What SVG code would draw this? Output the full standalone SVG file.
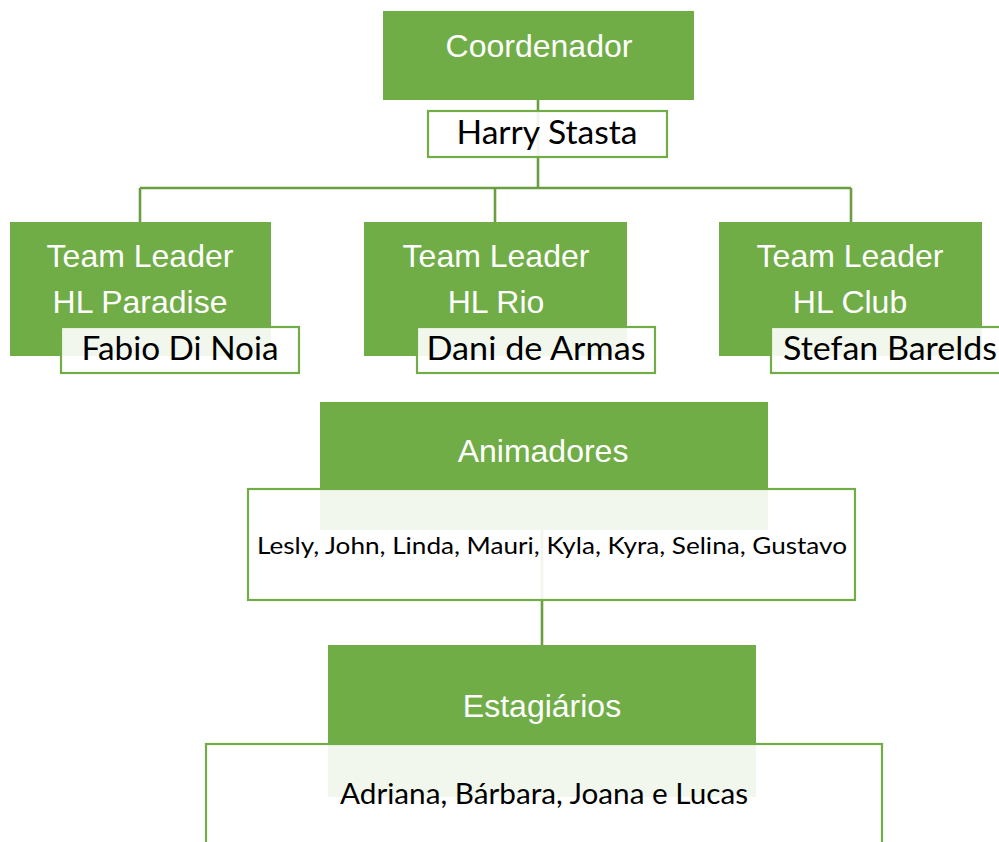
<svg xmlns="http://www.w3.org/2000/svg" width="999" height="842" viewBox="0 0 999 842">
<style>
.g{fill:#70AD47}
.w{fill:#ffffff;fill-opacity:0.9;stroke:#70AD47;stroke-width:2.2}
.t{font-family:"Liberation Sans",Arial,sans-serif;font-size:32px;fill:#ffffff;text-anchor:middle}
.n{font-family:Lato,"Open Sans",sans-serif;fill:#000000;text-anchor:middle}
.c{fill:none;stroke:#6A9E40;stroke-width:2.6}
</style>
<rect width="999" height="842" fill="#ffffff"/>
<g id="connectors">
<path class="c" d="M538,100V188M140,188H851M140,188V222M495,188V222M851,188V222"/>
<path class="c" d="M542,530V645"/>
</g>
<g id="coordenador">
<rect class="g" x="383" y="11" width="311" height="89"/>
<text class="t" x="539" y="57">Coordenador</text>
</g>
<g id="harry">
<rect class="w" x="428" y="111" width="239" height="46"/>
<text class="n" x="547" y="144" font-size="33" textLength="181" lengthAdjust="spacingAndGlyphs">Harry Stasta</text>
</g>
<g id="tl-paradise">
<rect class="g" x="10" y="222" width="261" height="134"/>
<text class="t" x="140" y="267">Team Leader</text>
<text class="t" x="140" y="313">HL Paradise</text>
<rect class="w" x="61" y="327" width="238" height="46"/>
<text class="n" x="180" y="360" font-size="33" textLength="197" lengthAdjust="spacingAndGlyphs">Fabio Di Noia</text>
</g>
<g id="tl-rio">
<rect class="g" x="364" y="222" width="263" height="134"/>
<text class="t" x="496" y="267">Team Leader</text>
<text class="t" x="496" y="313">HL Rio</text>
<rect class="w" x="417" y="327" width="238" height="46"/>
<text class="n" x="536" y="360" font-size="33" textLength="219" lengthAdjust="spacingAndGlyphs">Dani de Armas</text>
</g>
<g id="tl-club">
<rect class="g" x="719" y="222" width="263" height="134"/>
<text class="t" x="850" y="267">Team Leader</text>
<text class="t" x="850" y="313">HL Club</text>
<rect class="w" x="771" y="327" width="240" height="46"/>
<text class="n" x="890" y="360" font-size="33" textLength="214" lengthAdjust="spacingAndGlyphs">Stefan Barelds</text>
</g>
<g id="animadores">
<rect class="g" x="320" y="402" width="448" height="128"/>
<text class="t" x="543" y="462">Animadores</text>
<rect class="w" x="248" y="489" width="607" height="111"/>
<text class="n" x="552" y="554" font-size="23" textLength="590" lengthAdjust="spacingAndGlyphs">Lesly, John, Linda, Mauri, Kyla, Kyra, Selina, Gustavo</text>
</g>
<g id="estagiarios">
<rect class="g" x="328" y="645" width="428" height="152"/>
<text class="t" x="542" y="717">Estagiários</text>
<rect class="w" x="206" y="744" width="676" height="110"/>
<text class="n" x="544" y="804" font-size="29" textLength="408" lengthAdjust="spacingAndGlyphs">Adriana, Bárbara, Joana e Lucas</text>
</g>
</svg>
